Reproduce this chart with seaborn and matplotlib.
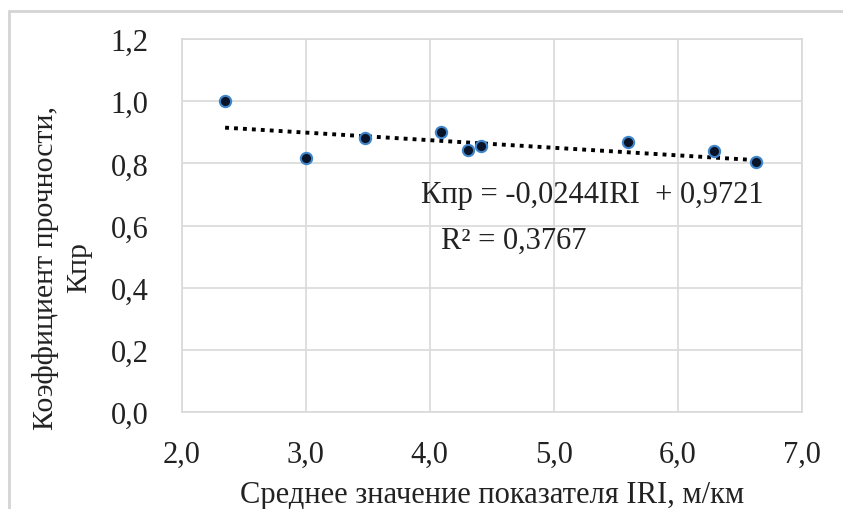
import numpy as np
import pandas as pd
import matplotlib
matplotlib.use("Agg")
import matplotlib.pyplot as plt
from matplotlib.patches import Rectangle
import seaborn as sns

# Data
iri = [2.35, 3.0, 3.48, 4.09, 4.31, 4.41, 5.6, 6.29, 6.63]
kpr = [1.0, 0.818, 0.882, 0.902, 0.843, 0.856, 0.87, 0.841, 0.803]
trend_slope = -0.0244
trend_intercept = 0.9721
x_ticks = [2.0, 3.0, 4.0, 5.0, 6.0, 7.0]
y_ticks = [0.0, 0.2, 0.4, 0.6, 0.8, 1.0, 1.2]
eq_text = "Кпр = -0,0244IRI  + 0,9721"
r2_text = "R² = 0,3767"
x_label = "Среднее значение показателя IRI, м/км"
y_label = "Коэффициент прочности,\nКпр"

sns.set_style("white")
plt.rcParams["font.family"] = ["Liberation Serif", "DejaVu Serif"]

W, H = 843, 510
fig = plt.figure(figsize=(W / 100, H / 100), dpi=100)
ax = fig.add_axes([181.7 / W, 1 - 413 / H, (801.7 - 181.7) / W, (413 - 40) / H])

df = pd.DataFrame({"IRI": iri, "Kpr": kpr})
trend_x = np.array([min(iri), max(iri)])
trend_df = pd.DataFrame({"IRI": trend_x, "Kpr": trend_slope * trend_x + trend_intercept})

sns.lineplot(data=trend_df, x="IRI", y="Kpr", ax=ax, color="black",
             linestyle=(0, (1, 1.3)), linewidth=2.8, zorder=3)
sns.scatterplot(data=df, x="IRI", y="Kpr", ax=ax, s=66, color="#0a1428",
                edgecolor="#3f86cc", linewidth=1.5, zorder=4)

ax.set_xlim(2.0, 7.0)
ax.set_ylim(0.0, 1.2)
ax.set_xticks(x_ticks)
ax.set_yticks(y_ticks)
ax.set_xticklabels([f"{v:.1f}".replace(".", ",") for v in x_ticks])
ax.set_yticklabels([f"{v:.1f}".replace(".", ",") for v in y_ticks])
ax.tick_params(axis="both", length=0, labelsize=22, colors="#222222")
ax.tick_params(axis="x", pad=20)
ax.tick_params(axis="y", pad=24)
ax.grid(True, color="#d9d9d9", linewidth=1.2)
for s in ax.spines.values():
    s.set_color("#d9d9d9")
    s.set_linewidth(1.2)

ax.set_xlabel("")
ax.set_ylabel("")
fig.text((181.7 + 801.7) / 2 / W, 1 - 503 / H, x_label, fontsize=22, color="#222222",
         ha="center", va="baseline")
fig.text(62 / W, 1 - 268 / H, y_label, rotation=90, fontsize=21.5, color="#222222",
         ha="center", va="center", multialignment="center", linespacing=1.35)

ax.text(3.93, 0.70, eq_text, fontsize=22, color="#222222", ha="left", va="center")
ax.text(4.09, 0.552, r2_text, fontsize=22, color="#222222", ha="left", va="center")

fig.patches.append(Rectangle((9 / W, -0.1), 1.2, 1 - 12 / H + 0.1, transform=fig.transFigure,
                             fill=False, edgecolor="#d4d4d4", linewidth=2, zorder=0))

fig.savefig("out.png", dpi=100)
